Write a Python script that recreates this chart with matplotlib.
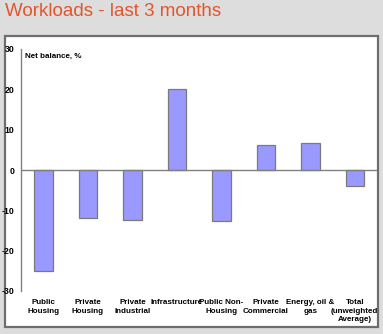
import numpy as np
import matplotlib
matplotlib.use('Agg')
import matplotlib.pyplot as plt
from matplotlib.patches import Rectangle

# workload balances by sector
categories = ['Public\nHousing', 'Private\nHousing', 'Private\nIndustrial', 'Infrastructure',
              'Public Non-\nHousing', 'Private\nCommercial', 'Energy, oil &\ngas',
              'Total\n(unweighted\nAverage)']
net_balance = [-25, -12, -12.5, 20, -12.6, 6.2, 6.7, -4]
yticks = [30, 20, 10, 0, -10, -20, -30]

plt.rcParams['font.family'] = ['Liberation Sans Narrow', 'Liberation Sans', 'DejaVu Sans']

fig = plt.figure(figsize=(3.83, 3.34), dpi=100)
fig.patch.set_facecolor('#dddddd')

# white panel behind the chart
panel = Rectangle((4.5 / 383, 1 - 326.5 / 334), (377.5 - 4.5) / 383, (326.5 - 36) / 334,
                  transform=fig.transFigure, facecolor='white', edgecolor='#6e6e6e',
                  linewidth=1.6, zorder=-1)
fig.patches.append(panel)

fig.text(5 / 383, 1 - 11.5 / 334, 'Workloads - last 3 months', color='#e0562d',
         fontsize=13.5, family=['Liberation Sans', 'DejaVu Sans'], va='center', ha='left')

ax = fig.add_axes([21.3 / 383, 1 - 291 / 334, (377 - 21.3) / 383, (291 - 49) / 334])
ax.set_facecolor('none')

x = np.arange(len(categories))
ax.bar(x, net_balance, width=0.415, color='#9999ff', edgecolor='#7a7a7a', linewidth=0.9, zorder=2)
ax.axhline(0, color='#808080', linewidth=1.0, zorder=3)

ax.set_xlim(-0.5, len(categories) - 0.5)
ax.set_ylim(-30, 30)
ax.set_yticks(yticks)
ax.set_yticklabels([str(v) for v in yticks], fontsize=6.3, fontweight='bold')
ax.tick_params(axis='y', length=0, pad=5)
ax.set_xticks(x)
ax.set_xticklabels(categories, fontsize=5.8, fontweight='bold', linespacing=1.25, va='top')
ax.tick_params(axis='x', length=0, pad=6)

for side in ['top', 'right', 'bottom']:
    ax.spines[side].set_visible(False)
ax.spines['left'].set_color('#808080')
ax.spines['left'].set_linewidth(1.0)

ax.text(0.01, 0.985, 'Net balance, %', transform=ax.transAxes, fontsize=5.8,
        fontweight='bold', va='top', ha='left')

fig.savefig('out.png', dpi=100, facecolor=fig.get_facecolor())
